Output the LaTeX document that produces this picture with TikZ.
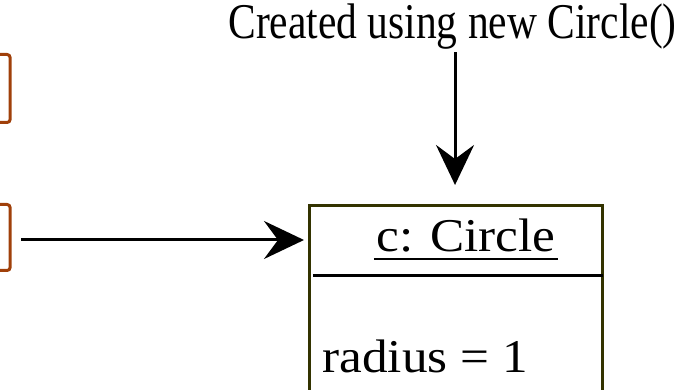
\documentclass[tikz,border=0pt]{standalone}
\usepackage{fontspec}
\setmainfont{Liberation Serif}
\newfontfamily\notefont[FakeStretch=0.83]{Liberation Serif}
\newfontfamily\objfont[FakeStretch=1.09]{Liberation Serif}
\usepackage{xcolor}
\usetikzlibrary{arrows.meta, positioning}

\definecolor{refbrown}{RGB}{160,64,10}
\definecolor{objolive}{RGB}{51,51,0}

\begin{document}
\begin{tikzpicture}[x=0.5pt, y=-0.5pt,
        refbox/.style={rectangle, draw=refbrown, line width=1.5pt, rounded corners=1.5pt,
            minimum width=35pt, inner sep=0},
        objbox/.style={rectangle, draw=objolive, line width=1.5pt, inner sep=0,
            minimum width=146.75pt, minimum height=112.25pt},
        txt/.style={inner sep=0, anchor=base west},
        arrow/.style={-{Stealth[length=20pt, width=19pt, inset=7pt]}, line width=1.5pt}
    ]
        \useasboundingbox (0,0) rectangle (693,390);
        \clip (0,0) rectangle (693,390);

        % reference variables, cut off on the left
        \node[refbox, minimum height=34pt] (refA) at (-24.9,88.5) {};
        \node[refbox, minimum height=33pt] (refB) at (-24.9,237.5) {};

        % the object
        \node[objbox] (circ) at (456.25,317.75) {};
        \draw[line width=1.5pt] (313,276) -- (603,276);
        \node[txt] (title) at (376,252) {\objfont\fontsize{23.5}{28}\selectfont c: Circle};
        \draw[line width=1.25pt] ([xshift=-1pt, yshift=-3.6pt]title.base west) -- ([xshift=1pt, yshift=-3.6pt]title.base east);
        \node[txt] (radius) at (322,373) {\objfont\fontsize{23.5}{28}\selectfont radius = 1};

        % note
        \node[txt] (note) at (228,39) {\notefont\fontsize{25}{30}\selectfont Created using new Circle()};

        \draw[arrow, shorten <=1pt, shorten >=9.5pt] ([xshift=1.25pt]note.south) -- ([xshift=1.25pt]note.south |- circ.north);
        \draw[arrow, shorten <=4.75pt, shorten >=2pt] ([yshift=-1.25pt]refB.east) -- ([yshift=-1.25pt]refB.east -| circ.west);
    \end{tikzpicture}
\end{document}
